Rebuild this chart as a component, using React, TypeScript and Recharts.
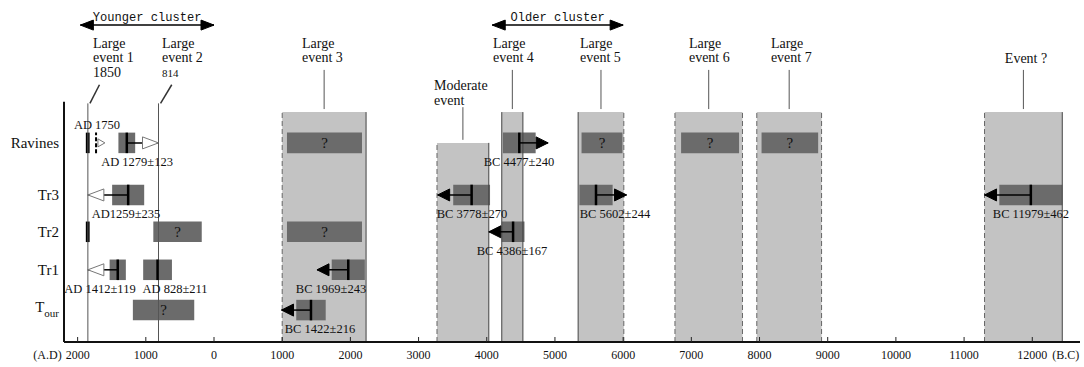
import React from 'react';
import {
  ComposedChart,
  XAxis,
  YAxis,
  ReferenceArea,
  ReferenceLine,
  Scatter,
} from 'recharts';

// years: negative = A.D., positive = B.C.
const X_TICKS = [-2000, -1000, 0, 1000, 2000, 3000, 4000, 5000, 6000, 7000, 8000, 9000, 10000, 11000, 12000];

// site rows (y in layout units, time axis = 0)
const ROW_NAMES = ['Ravines', 'Tr3', 'Tr2', 'Tr1', 'Tour'];
const ROW_Y = [5.24, 3.87, 2.9, 1.9, 0.84];

const CLUSTER_NAMES = ['Younger cluster', 'Older cluster'];
const CLUSTER_FROM = [-1960, 4080];
const CLUSTER_TO = [0, 6000];

// historical events
const HIST_LINES = [['Large', 'event 1', '1850'], ['Large', 'event 2', '814']];
const HIST_YEAR = [-1850, -814];
const HIST_TEXT_X = [-1774, -762];
const HIST_SLANT_X = [-1680, -620];

// event windows
const EVENT_LINES = [
  ['Large', 'event 3'],
  ['Moderate', 'event'],
  ['Large', 'event 4'],
  ['Large', 'event 5'],
  ['Large', 'event 6'],
  ['Large', 'event 7'],
  ['Event ?'],
];
const EVENT_FROM = [1000, 3270, 4220, 5340, 6760, 7960, 11300];
const EVENT_TO = [2230, 4030, 4530, 6010, 7750, 8910, 12440];
const EVENT_TOP = [6.05, 5.24, 6.05, 6.05, 6.05, 6.05, 6.05];
const EVENT_TEXT_X = [1290, 3226, 4091, 5367, 6965, 8167, 11598];
const EVENT_TEXT_Y = [7.745, 6.62, 7.745, 7.745, 7.745, 7.745, 7.33];
const EVENT_STEM_TOP = [7.16, 6.18, 7.16, 7.16, 7.16, 7.16, 7.16];
const EVENT_LEFT_EDGE = ['dashed', 'dashed', 'solid', 'solid', 'dashed', 'dashed', 'dashed'];
const EVENT_RIGHT_EDGE = ['solid', 'solid', 'solid', 'dashed', 'dashed', 'dashed', 'solid'];

// undated units
const QBOX_ROW = [0, 0, 0, 0, 2, 2, 4];
const QBOX_FROM = [1070, 5390, 6850, 8030, -890, 1070, -1190];
const QBOX_TO = [2170, 5990, 7700, 8860, -180, 2170, -290];

// dated samples
const AGE_LABELS = ['AD 1279±123', 'AD1259±235', 'BC 3778±270', 'BC 5602±244', 'BC 11979±462', 'BC 4386±167', 'BC 4477±240', 'AD 1412±119', 'AD 828±211', 'BC 1969±243', 'BC 1422±216'];
const AGE_ROW = [0, 1, 1, 1, 1, 2, 0, 3, 3, 3, 4];
const AGE_MEAN = [-1279, -1259, 3778, 5602, 11979, 4386, 4477, -1412, -828, 1969, 1422];
const AGE_ERR = [123, 235, 270, 244, 462, 167, 240, 119, 211, 243, 216];
const AGE_TIP: (number | null)[] = [-814, -1850, 3280, 6050, 11300, 4030, 4900, -1850, null, 1510, 990];
const AGE_LABEL_X = [-1129, -1290, 3783, 5880, 11980, 4370, 4472, -1672, -572, 1716, 1554];

// AD 1750 (Ravines) and black marker bars
const MIN_AGE_LABEL = 'AD 1750';
const MIN_AGE_YEAR = -1730;
const MIN_AGE_TIP = -1600;
const MIN_AGE_LABEL_X = -1716;
const BAR_ROW = [0, 2];
const BAR_YEAR = [-1852, -1852];

const HALF = 0.27;
const LIGHT = '#c3c3c3';
const DARK = '#6b6b6b';
const INK = '#111';
const SERIF = '"Liberation Serif", "Times New Roman", serif';
const MONO = '"Liberation Mono", "Courier New", monospace';

const TimeTick = (p: any) => {
  const { x, y, payload } = p;
  const v = payload.value;
  return (
    <g>
      <line x1={x} x2={x} y1={y - 5} y2={y} stroke="#222" />
      <text x={x} y={y + 17} textAnchor="middle" fontSize={12} fill={INK}>{Math.abs(v)}</text>
      {v === X_TICKS[0] && (
        <text x={x - 16} y={y + 17} textAnchor="end" fontSize={12} fill={INK}>(A.D)</text>
      )}
      {v === X_TICKS[X_TICKS.length - 1] && (
        <text x={x + 20} y={y + 17} textAnchor="start" fontSize={12} fill={INK}>(B.C)</text>
      )}
    </g>
  );
};

const RowTick = (p: any) => {
  const { x, y, payload } = p;
  const name = ROW_NAMES[ROW_Y.indexOf(payload.value)] || '';
  if (name === 'Tour') {
    return (
      <text x={x} y={y + 2} textAnchor="end" fontSize={15} fill={INK}>
        T<tspan fontSize={11} dy={5}>our</tspan>
      </text>
    );
  }
  return (
    <text x={x} y={y + 5} textAnchor="end" fontSize={15} fill={INK}>{name}</text>
  );
};

const linesText = (size: number, lead: number) => (p: any) => {
  const { cx, cy, payload } = p;
  return (
    <text x={cx} y={cy} fontSize={size} fill={INK}>
      {payload.lines.map((l: string, i: number) => (
        <tspan key={i} x={cx} dy={i === 0 ? 0 : lead} fontSize={payload.small && i === 2 ? 11 : size}>{l}</tspan>
      ))}
    </text>
  );
};

const ageText = (p: any) => {
  const { cx, cy, payload } = p;
  return (
    <text x={cx} y={cy + (payload.above ? -14 : 23)} textAnchor="middle" fontSize={12.5} fill={INK}>
      {payload.label}
    </text>
  );
};

const qText = (p: any) => (
  <text x={p.cx} y={p.cy + 5} textAnchor="middle" fontSize={15} fill="#111">?</text>
);

const clusterText = (p: any) => {
  const { cx, cy, payload } = p;
  return (
    <text x={cx} y={cy} textAnchor="middle" fontSize={13} fontFamily={MONO} fill={INK}
      textLength={payload.label.length * 7.25} lengthAdjust="spacingAndGlyphs">
      {payload.label}
    </text>
  );
};

const headShape = (p: any) => {
  const { cx, cy, payload } = p;
  const len = payload.kind === 'hollow' ? 16 : payload.kind === 'tiny' ? 7 : payload.kind === 'cluster' ? 13 : 12;
  const h = payload.kind === 'tiny' ? 4 : payload.kind === 'cluster' ? 5 : 6;
  const s = payload.dir === 'right' ? -1 : 1;
  const pts = `${cx},${cy} ${cx + s * len},${cy - h} ${cx + s * len},${cy + h}`;
  const solid = payload.kind === 'solid' || payload.kind === 'cluster';
  return <polygon points={pts} fill={solid ? '#000' : '#fff'} stroke={solid ? '#000' : '#777'} strokeWidth={1} />;
};

export default function App() {
  const CLUSTER_Y = 8.34;
  const CLUSTER_TEXT_Y = 8.45;
  const HIST_TOP = 6.28;

  const eventText = EVENT_LINES.map((lines, i) => ({ x: EVENT_TEXT_X[i], y: EVENT_TEXT_Y[i], lines }));
  const histText = HIST_LINES.map((lines, i) => ({ x: HIST_TEXT_X[i], y: 7.745, lines, small: i === 1 }));
  const ageLabels: any[] = AGE_LABELS.map((label, i) => ({ x: AGE_LABEL_X[i], y: ROW_Y[AGE_ROW[i]], label }));
  ageLabels.push({ x: MIN_AGE_LABEL_X, y: ROW_Y[0], label: MIN_AGE_LABEL, above: true });
  const qMarks = QBOX_ROW.map((r, i) => ({ x: (QBOX_FROM[i] + QBOX_TO[i]) / 2, y: ROW_Y[r] }));
  const clusterLabels = CLUSTER_NAMES.map((label, i) => ({ x: (CLUSTER_FROM[i] + CLUSTER_TO[i]) / 2, y: CLUSTER_TEXT_Y, label }));

  const heads: any[] = [];
  AGE_TIP.forEach((tip, i) => {
    if (tip === null) return;
    heads.push({
      x: tip,
      y: ROW_Y[AGE_ROW[i]],
      dir: tip > AGE_MEAN[i] ? 'right' : 'left',
      kind: AGE_MEAN[i] < 0 ? 'hollow' : 'solid',
    });
  });
  heads.push({ x: MIN_AGE_TIP, y: ROW_Y[0], dir: 'right', kind: 'tiny' });
  CLUSTER_FROM.forEach((f, i) => {
    heads.push({ x: f, y: CLUSTER_Y, dir: 'left', kind: 'cluster' });
    heads.push({ x: CLUSTER_TO[i], y: CLUSTER_Y, dir: 'right', kind: 'cluster' });
  });

  return (
    <div style={{ position: 'absolute', left: 0, top: 0, fontFamily: SERIF, background: '#fff' }}>
      <ComposedChart width={1084} height={367} margin={{ top: 0, right: 4, bottom: 0, left: 0 }}>
        <XAxis
          type="number"
          dataKey="x"
          domain={[-2200, 12700]}
          ticks={X_TICKS}
          interval={0}
          tick={(p: any) => <TimeTick {...p} />}
          tickSize={0}
          tickMargin={0}
          tickLine={false}
          axisLine={{ stroke: '#111', strokeWidth: 2 }}
          height={25}
          allowDataOverflow
        />
        <YAxis
          type="number"
          dataKey="y"
          domain={[0, 9]}
          ticks={ROW_Y}
          interval={0}
          tick={(p: any) => <RowTick {...p} />}
          width={64}
          tickSize={0}
          tickMargin={5}
          axisLine={false}
          tickLine={false}
          allowDataOverflow
        />

        {EVENT_FROM.map((f, i) => (
          <ReferenceArea key={`band${i}`} x1={f} x2={EVENT_TO[i]} y1={0} y2={EVENT_TOP[i]}
            fill={LIGHT} fillOpacity={1} stroke="none" ifOverflow="visible" />
        ))}
        {EVENT_FROM.map((f, i) => (
          <ReferenceLine key={`le${i}`} segment={[{ x: f, y: 0 }, { x: f, y: EVENT_TOP[i] }]}
            stroke={EVENT_LEFT_EDGE[i] === 'dashed' ? '#666' : '#444'}
            strokeDasharray={EVENT_LEFT_EDGE[i] === 'dashed' ? '5 3' : undefined} ifOverflow="visible" />
        ))}
        {EVENT_TO.map((t, i) => (
          <ReferenceLine key={`re${i}`} segment={[{ x: t, y: 0 }, { x: t, y: EVENT_TOP[i] }]}
            stroke={EVENT_RIGHT_EDGE[i] === 'dashed' ? '#666' : '#444'}
            strokeDasharray={EVENT_RIGHT_EDGE[i] === 'dashed' ? '5 3' : undefined} ifOverflow="visible" />
        ))}
        {EVENT_FROM.map((f, i) => (
          <ReferenceLine key={`stem${i}`}
            segment={[{ x: (f + EVENT_TO[i]) / 2, y: EVENT_TOP[i] + 0.08 }, { x: (f + EVENT_TO[i]) / 2, y: EVENT_STEM_TOP[i] }]}
            stroke="#555" ifOverflow="visible" />
        ))}

        {HIST_YEAR.map((yr, i) => (
          <ReferenceLine key={`hist${i}`} segment={[{ x: yr, y: 0 }, { x: yr, y: HIST_TOP }]} stroke="#555" ifOverflow="visible" />
        ))}
        {HIST_YEAR.map((yr, i) => (
          <ReferenceLine key={`slant${i}`} segment={[{ x: yr + 30, y: HIST_TOP }, { x: HIST_SLANT_X[i], y: 6.77 }]}
            stroke="#333" strokeWidth={1.5} ifOverflow="visible" />
        ))}

        <ReferenceLine segment={[{ x: -2200, y: 0 }, { x: -2200, y: 6.32 }]} stroke="#111" strokeWidth={2} ifOverflow="visible" />

        {CLUSTER_FROM.map((f, i) => (
          <ReferenceLine key={`cl${i}`} segment={[{ x: f, y: CLUSTER_Y }, { x: CLUSTER_TO[i], y: CLUSTER_Y }]}
            stroke="#000" strokeWidth={1.5} ifOverflow="visible" />
        ))}

        {QBOX_ROW.map((r, i) => (
          <ReferenceArea key={`q${i}`} x1={QBOX_FROM[i]} x2={QBOX_TO[i]} y1={ROW_Y[r] - HALF} y2={ROW_Y[r] + HALF}
            fill={DARK} fillOpacity={1} stroke="none" ifOverflow="visible" />
        ))}
        {AGE_MEAN.map((m, i) => (
          <ReferenceArea key={`age${i}`} x1={m - AGE_ERR[i]} x2={m + AGE_ERR[i]}
            y1={ROW_Y[AGE_ROW[i]] - HALF} y2={ROW_Y[AGE_ROW[i]] + HALF}
            fill={DARK} fillOpacity={1} stroke="none" ifOverflow="visible" />
        ))}
        {BAR_YEAR.map((yr, i) => (
          <ReferenceArea key={`bar${i}`} x1={yr - 28} x2={yr + 28}
            y1={ROW_Y[BAR_ROW[i]] - HALF} y2={ROW_Y[BAR_ROW[i]] + HALF}
            fill="#000" fillOpacity={1} stroke="none" ifOverflow="visible" />
        ))}

        {AGE_MEAN.map((m, i) =>
          AGE_TIP[i] === null ? null : (
            <ReferenceLine key={`shaft${i}`} segment={[{ x: m, y: ROW_Y[AGE_ROW[i]] }, { x: AGE_TIP[i] as number, y: ROW_Y[AGE_ROW[i]] }]}
              stroke="#000" strokeWidth={1.5} ifOverflow="visible" />
          )
        )}
        {AGE_MEAN.map((m, i) => (
          <ReferenceLine key={`mean${i}`} segment={[{ x: m, y: ROW_Y[AGE_ROW[i]] - HALF }, { x: m, y: ROW_Y[AGE_ROW[i]] + HALF }]}
            stroke="#000" strokeWidth={2.5} ifOverflow="visible" />
        ))}
        <ReferenceLine segment={[{ x: MIN_AGE_YEAR, y: ROW_Y[0] - HALF }, { x: MIN_AGE_YEAR, y: ROW_Y[0] + HALF }]}
          stroke="#000" strokeWidth={2} strokeDasharray="4 2" ifOverflow="visible" />

        <Scatter data={heads} shape={headShape} isAnimationActive={false} />
        <Scatter data={qMarks} shape={qText} isAnimationActive={false} />
        <Scatter data={ageLabels} shape={ageText} isAnimationActive={false} />
        <Scatter data={eventText} shape={linesText(14, 14.5)} isAnimationActive={false} />
        <Scatter data={histText} shape={linesText(14, 14.5)} isAnimationActive={false} />
        <Scatter data={clusterLabels} shape={clusterText} isAnimationActive={false} />
      </ComposedChart>
    </div>
  );
}
